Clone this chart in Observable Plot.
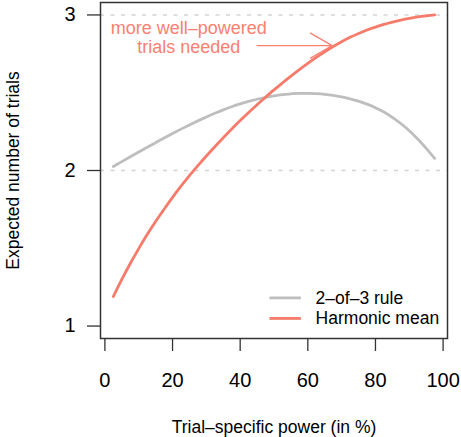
<!DOCTYPE html>
<html><head><meta charset="utf-8">
<script src="https://cdn.jsdelivr.net/npm/d3@7"></script>
<script src="https://cdn.jsdelivr.net/npm/@observablehq/plot@0.6"></script>
<style>html,body{margin:0;padding:0;background:#fff} svg{display:block}</style>
</head><body><div id="chart"></div>
<script>
// Trial-specific power (in %)
const power = [2.5,5,7.5,10,12.5,15,17.5,20,22.5,25,27.5,30,32.5,35,37.5,40,42.5,45,47.5,50,
               52.5,55,57.5,60,62.5,65,67.5,70,72.5,75,77.5,80,82.5,85,87.5,90,92.5,95,97.5];
// Expected number of trials: 2-of-3 rule
const twoOfThree = [2.026,2.057,2.088,2.119,2.149,2.179,2.209,2.238,2.266,2.293,2.319,2.344,2.368,2.390,2.410,2.428,2.444,2.458,2.470,2.480,
                    2.488,2.493,2.496,2.496,2.494,2.490,2.483,2.473,2.461,2.446,2.427,2.404,2.376,2.342,2.302,2.256,2.202,2.142,2.078];
// Expected number of trials: harmonic mean
const harmonicMean = [1.190,1.300,1.402,1.498,1.588,1.672,1.751,1.827,1.899,1.967,2.031,2.093,2.153,2.211,2.267,2.321,2.373,2.423,2.471,2.518,
                      2.563,2.607,2.649,2.689,2.727,2.763,2.797,2.828,2.856,2.881,2.903,2.922,2.939,2.954,2.967,2.978,2.987,2.994,3.000];
const xTicks = [0,20,40,60,80,100];
const yTicks = [1,2,3];
const gridLevels = [2,3];
const seriesNames = ["2–of–3 rule","Harmonic mean"];
const annotationLines = ["more well–powered","trials needed"];
const xTitle = "Trial–specific power (in %)";
const yTitle = "Expected number of trials";

const greyCol = "#bebebe";
const redCol = "#f67b6b";
const noteCol = "#fa8072";
const font = "'Liberation Sans', Arial, Helvetica, sans-serif";

const rows2 = power.map((p,i) => ({p, v: twoOfThree[i]}));
const rowsH = power.map((p,i) => ({p, v: harmonicMean[i]}));

const chart = Plot.plot({
  width: 461, height: 437,
  marginLeft: 100, marginRight: 14, marginTop: 2, marginBottom: 99,
  style: {fontFamily: font, background: "#fff", color: "#000"},
  x: {domain: [-1.3, 101.3]},
  y: {domain: [0.92, 3.08]},
  marks: [
    Plot.ruleY(gridLevels, {stroke: "#d3d3d3", strokeWidth: 1.5, strokeDasharray: "4,6.5"}),
    Plot.line(rows2, {x: "p", y: "v", stroke: greyCol, strokeWidth: 2.8, curve: "monotone-x"}),
    Plot.line(rowsH, {x: "p", y: "v", stroke: redCol, strokeWidth: 2.8, curve: "monotone-x"}),
    Plot.text([annotationLines[0]], {x: 24.8, y: 2.914, text: d => d, fill: noteCol, fontSize: 18, textAnchor: "middle", lineAnchor: "middle"}),
    Plot.text([annotationLines[1]], {x: 24.8, y: 2.794, text: d => d, fill: noteCol, fontSize: 18, textAnchor: "middle", lineAnchor: "middle"}),
    Plot.arrow([annotationLines[1]], {x1: 45.0, y1: 2.803, x2: 67.2, y2: 2.803, stroke: noteCol, strokeWidth: 1.3, headLength: 40, headAngle: 60}),
    Plot.ruleY([seriesNames[0]], {y: 1.181, x1: 48.8, x2: 58.1, stroke: greyCol, strokeWidth: 2.8}),
    Plot.ruleY([seriesNames[1]], {y: 1.049, x1: 48.8, x2: 58.1, stroke: redCol, strokeWidth: 2.8}),
    Plot.text([seriesNames[0]], {x: 62.3, y: 1.181, text: d => d, fontSize: 17.5, textAnchor: "start", lineAnchor: "middle", fill: "#000"}),
    Plot.text([seriesNames[1]], {x: 62.3, y: 1.049, text: d => d, fontSize: 17.5, textAnchor: "start", lineAnchor: "middle", fill: "#000"}),
    Plot.frame({stroke: "#333", strokeWidth: 1.5}),
    Plot.axisX({ticks: xTicks, tickSize: 13, tickPadding: 21, fontSize: 20, label: null, stroke: "#333", strokeWidth: 1.3, tickFormat: d => String(d)}),
    Plot.axisY({ticks: yTicks, tickSize: 13, tickPadding: 12, fontSize: 20, label: null, stroke: "#333", strokeWidth: 1.3, tickFormat: d => String(d)}),
    Plot.text([xTitle], {frameAnchor: "bottom", dy: 89, text: d => d, fontSize: 17.5, textAnchor: "middle", lineAnchor: "middle", fill: "#000"}),
    Plot.text([yTitle], {frameAnchor: "left", dx: -87, rotate: -90, text: d => d, fontSize: 17.5, textAnchor: "middle", lineAnchor: "middle", fill: "#000"})
  ]
});
document.getElementById("chart").appendChild(chart);
</script>
</body></html>
